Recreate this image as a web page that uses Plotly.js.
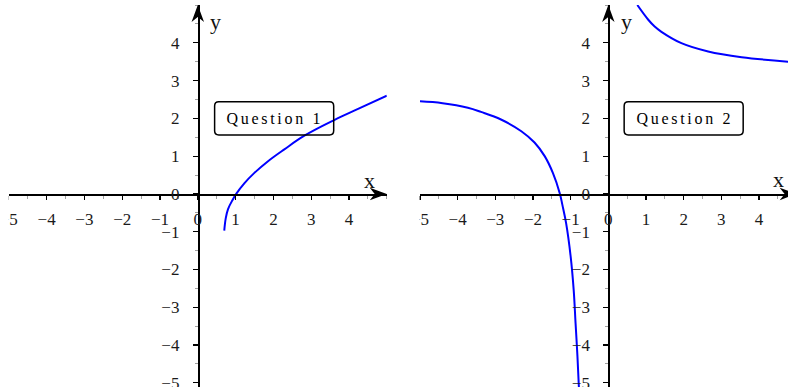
<!DOCTYPE html>
<html><head><meta charset="utf-8">
<script src="https://cdn.plot.ly/plotly-3.0.1.min.js"></script>
<style>html,body{margin:0;padding:0;background:#fff;overflow:hidden}</style>
</head><body>
<div id="chart" style="width:788px;height:387px"></div>
<script>
// ---- data ----
// Question 1 curve
const q1X = [0.70, 0.74, 0.80, 0.92, 1.03, 1.23, 1.49, 1.85, 2.29, 2.82, 3.62, 4.24, 5.00];
const q1Y = [-0.97, -0.64, -0.40, -0.16, 0.02, 0.28, 0.55, 0.86, 1.18, 1.54, 1.96, 2.25, 2.60];
// Question 2, upper-right branch
const q2UpperX = [0.77, 1.06, 1.23, 1.41, 1.94, 2.65, 3.54, 4.78];
const q2UpperY = [5.00, 4.61, 4.43, 4.29, 3.99, 3.77, 3.62, 3.50];
// Question 2, lower-left branch
const q2LowerX = [-5.00, -4.40, -3.73, -3.38, -2.85, -2.31, -1.96, -1.69, -1.47, -1.29, -1.22, -1.12, -1.00, -0.92, -0.87, -0.82, -0.78];
const q2LowerY = [2.45, 2.40, 2.28, 2.17, 1.97, 1.66, 1.36, 1.00, 0.55, 0.02, -0.29, -0.78, -1.66, -2.54, -3.42, -4.30, -5.15];
// tick values and labels
const xTicks = [-5, -4, -3, -2, -1, 0, 1, 2, 3, 4];
const yTicks = [-5, -4, -3, -2, -1, 0, 1, 2, 3, 4];
const boxLabels = ['Question 1', 'Question 2'];
const axisLetters = ['x', 'y'];

// ---- layout geometry ----
const W = 788, H = 387;
const yRange = [-5.11, 5.0];
const x1Range = [-5, 5], x1Dom = [8.8 / W, 386.8 / W];
const x2Range = [-5, 4.77], x2Dom = [420 / W, 1];
function zeroFrac(range, dom) {
  return dom[0] + (0 - range[0]) / (range[1] - range[0]) * (dom[1] - dom[0]);
}
const xPos = (0 - yRange[0]) / (yRange[1] - yRange[0]);

const serif = 'Liberation Serif, Times New Roman, serif';
const minor = {tickmode: 'linear', tick0: 0, dtick: 0.5, ticks: 'outside', ticklen: 3, tickwidth: 1, tickcolor: '#a0a0a0'};
function xAxis(range, dom) {
  return {range: range, domain: dom, anchor: 'free', position: xPos,
    showgrid: false, zeroline: false, showline: true, linecolor: '#000', linewidth: 1.8,
    tickmode: 'array', tickvals: xTicks, ticks: 'outside', ticklen: 4, tickwidth: 1.2, tickcolor: '#000',
    ticklabelstandoff: 5, ticklabeloverflow: 'allow', tickfont: {family: serif, size: 17, color: '#1a1a1a'},
    minor: minor, fixedrange: true};
}
function yAxis(pos) {
  return {range: yRange, domain: [0, 1], anchor: 'free', position: pos,
    showgrid: false, zeroline: false, showline: true, linecolor: '#000', linewidth: 1.8,
    tickmode: 'array', tickvals: yTicks, ticks: 'outside', ticklen: 5, tickwidth: 1.2, tickcolor: '#000',
    ticklabelstandoff: 10, ticklabeloverflow: 'allow', tickfont: {family: serif, size: 17, color: '#1a1a1a'},
    minor: minor, fixedrange: true};
}

function lineStyle() { return {color: '#0000ff', width: 2, shape: 'spline', smoothing: 1.1}; }
const traces = [
  {x: q1X, y: q1Y, xaxis: 'x', yaxis: 'y', type: 'scatter', mode: 'lines', line: lineStyle(), hoverinfo: 'skip', showlegend: false},
  {x: q2UpperX, y: q2UpperY, xaxis: 'x2', yaxis: 'y2', type: 'scatter', mode: 'lines', line: lineStyle(), hoverinfo: 'skip', showlegend: false},
  {x: q2LowerX, y: q2LowerY, xaxis: 'x2', yaxis: 'y2', type: 'scatter', mode: 'lines', line: lineStyle(), hoverinfo: 'skip', showlegend: false}
];

// stealth arrowheads (data units; both axes share the same scale)
const AL = 0.45, AHW = 0.165, ANOTCH = 0.32;
function xArrow(tip, xr, yr) {
  return {type: 'path', xref: xr, yref: yr, layer: 'above', fillcolor: '#000', line: {width: 0},
    path: `M${tip},0 L${tip - AL},${AHW} L${tip - ANOTCH},0 L${tip - AL},${-AHW} Z`};
}
function yArrow(tip, xr, yr) {
  return {type: 'path', xref: xr, yref: yr, layer: 'above', fillcolor: '#000', line: {width: 0},
    path: `M0,${tip} L${AHW},${tip - AL} L0,${tip - ANOTCH} L${-AHW},${tip - AL} Z`};
}
function roundBox(cx, cy, hw, hh, r, xr, yr) {
  const x0 = cx - hw, x1 = cx + hw, y0 = cy - hh, y1 = cy + hh;
  return {type: 'path', xref: xr, yref: yr, layer: 'above', line: {color: '#000', width: 1.5},
    fillcolor: 'rgba(0,0,0,0)',
    path: `M${x0 + r},${y0} L${x1 - r},${y0} Q${x1},${y0} ${x1},${y0 + r} L${x1},${y1 - r} Q${x1},${y1} ${x1 - r},${y1} ` +
          `L${x0 + r},${y1} Q${x0},${y1} ${x0},${y1 - r} L${x0},${y0 + r} Q${x0},${y0} ${x0 + r},${y0} Z`};
}

const shapes = [
  xArrow(5, 'x', 'y'), yArrow(5, 'x', 'y'),
  xArrow(5, 'x2', 'y2'), yArrow(5, 'x2', 'y2'),
  roundBox(2.02, 2.0, 1.575, 0.44, 0.11, 'x', 'y'),
  roundBox(2.0, 2.0, 1.58, 0.44, 0.11, 'x2', 'y2'),
  // white masks: each panel is clipped at the left end of its x axis
  {type: 'rect', xref: 'paper', yref: 'paper', x0: -0.01, x1: x1Dom[0], y0: -0.1, y1: 1.1, layer: 'above', fillcolor: '#fff', line: {width: 0}},
  {type: 'rect', xref: 'paper', yref: 'paper', x0: 392 / W, x1: x2Dom[0] - 0.0005, y0: -0.1, y1: 1.1, layer: 'above', fillcolor: '#fff', line: {width: 0}}
];

const lblFont = {family: serif, size: 22, color: '#111'};
const boxFont = {family: serif, size: 16, color: '#000'};
const annotations = [
  {xref: 'x', yref: 'y', x: 4.53, y: 0.36, text: axisLetters[0], showarrow: false, font: lblFont},
  {xref: 'x', yref: 'y', x: 0.48, y: 4.57, text: axisLetters[1], showarrow: false, font: lblFont},
  {xref: 'x2', yref: 'y2', x: 4.53, y: 0.39, text: axisLetters[0], showarrow: false, font: lblFont},
  {xref: 'x2', yref: 'y2', x: 0.47, y: 4.57, text: axisLetters[1], showarrow: false, font: lblFont},
  {xref: 'x', yref: 'y', x: 2.05, y: 2.0, text: boxLabels[0], showarrow: false, font: boxFont},
  {xref: 'x2', yref: 'y2', x: 2.03, y: 2.0, text: boxLabels[1], showarrow: false, font: boxFont}
];

const layout = {
  width: W, height: H,
  margin: {l: 0, r: 0, t: 5, b: 0, pad: 0},
  paper_bgcolor: '#fff', plot_bgcolor: 'rgba(0,0,0,0)',
  showlegend: false,
  xaxis: xAxis(x1Range, x1Dom),
  yaxis: yAxis(zeroFrac(x1Range, x1Dom)),
  xaxis2: xAxis(x2Range, x2Dom),
  yaxis2: yAxis(zeroFrac(x2Range, x2Dom)),
  shapes: shapes,
  annotations: annotations
};

Plotly.newPlot('chart', traces, layout, {staticPlot: true, displayModeBar: false}).then(function (gd) {
  gd.querySelectorAll('.annotation-text').forEach(function (t) {
    if (boxLabels.indexOf(t.textContent) >= 0) t.style.letterSpacing = '2.7px';
  });
});
</script>
</body></html>
